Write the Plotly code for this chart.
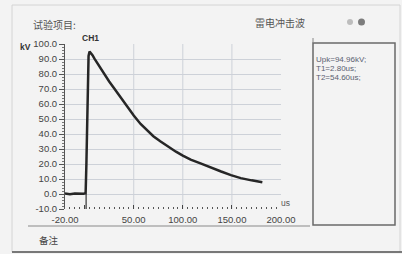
import plotly.graph_objects as go

# ---- data ----
time_us = [-20, -15, -10, -5, -1, 0, 1, 1.8, 2.5, 3.2, 4, 5, 6, 8, 10, 13, 16, 20, 25, 30, 36, 43,
           50, 57, 63, 70, 77, 85, 93, 100, 108, 118, 128, 139, 149, 159, 170, 181]
voltage_kv = [0.3, -0.2, 0.4, 0.1, 0.2, 0.4, 0.5, 20, 55, 82, 92, 94.96, 94.3, 92.5, 90.2, 87.0,
              84.0, 79.8, 75.0, 70.5, 64.8, 58.5, 52.3, 46.7, 42.6, 38.5, 35.2, 31.4, 28.2, 25.6,
              22.9, 20.4, 17.6, 15.0, 12.6, 10.6, 9.1, 7.8]

x_tick_vals = [-20, 0, 50, 100, 150, 200]
x_tick_text = ["-20.00", "", "50.00", "100.00", "150.00", "200.00"]
y_tick_vals = [-10, 0, 10, 20, 30, 40, 50, 60, 70, 80, 90, 100]
y_tick_text = ["-10.0", "0.0", "10.0", "20.0", "30.0", "40.0", "50.0", "60.0", "70.0",
               "80.0", "90.0", "100.0"]
x_grid = [50, 100, 150]
cursor_x = [1.5]

title_left = "试验项目:"
title_mid = "雷电冲击波"
channel = "CH1"
y_unit = "kV"
x_unit = "us"
remark = "备注"
results = ["Upk=94.96kV;", "T1=2.80us;", "T2=54.60us;"]

W, H = 402, 254
L, R, T, B = 65, 121, 44, 45
PW, PH = W - L - R, H - T - B


def px(x):
    return (x - L) / PW


def py(y):
    return (H - B - y) / PH


BG = "#f3f3f3"
TXT = "#3a3a3a"
FONT = "Liberation Sans"
CJK = "Noto Sans CJK SC"

fig = go.Figure()
fig.add_trace(go.Scatter(x=time_us, y=voltage_kv, mode="lines",
                         line=dict(color="#262626", width=2.5), hoverinfo="skip",
                         showlegend=False))

shapes = []
for gx in x_grid:
    shapes.append(dict(type="line", xref="x", yref="y", x0=gx, x1=gx, y0=-10, y1=100,
                       line=dict(color="#cdd1d8", width=1), layer="below"))
for cx in cursor_x:
    shapes.append(dict(type="line", xref="x", yref="y", x0=cx, x1=cx, y0=-10, y1=0,
                       line=dict(color="#333333", width=1.2)))
# layout frame lines (pixel positions)
shapes += [
    dict(type="rect", xref="paper", yref="paper", x0=px(12), x1=px(400), y0=py(252), y1=py(5),
         line=dict(color="#d4d4d4", width=1)),
    dict(type="line", xref="paper", yref="paper", x0=px(12), x1=px(402), y0=py(252), y1=py(252),
         line=dict(color="#555555", width=1.5)),
    dict(type="line", xref="paper", yref="paper", x0=px(28), x1=px(310), y0=py(226), y1=py(226),
         line=dict(color="#8a8a8a", width=1.2)),
    dict(type="rect", xref="paper", yref="paper", x0=px(313), x1=px(395), y0=py(225), y1=py(43),
         line=dict(color="#6a6a6a", width=1.5)),
    dict(type="line", xref="paper", yref="paper", x0=px(313), x1=px(313), y0=py(43), y1=py(38),
         line=dict(color="#888888", width=1)),
    dict(type="circle", xref="paper", yref="paper", x0=px(347), x1=px(353), y0=py(25), y1=py(19),
         line=dict(width=0), fillcolor="#bdbdbd"),
    dict(type="circle", xref="paper", yref="paper", x0=px(358), x1=px(365), y0=py(25.5), y1=py(18.5),
         line=dict(width=0), fillcolor="#7c7c7c"),
]

ann = []


def add_text(text, x, y, size, family=FONT, anchor="left", color=TXT, bold=False):
    t = f"<b>{text}</b>" if bold else text
    ann.append(dict(text=t, xref="paper", yref="paper", x=px(x), y=py(y), xanchor=anchor,
                    yanchor="middle", showarrow=False, font=dict(size=size, family=family,
                                                                 color=color)))


add_text(title_left, 31, 25, 10, CJK, color="#555555")
add_text(title_mid, 253, 22, 10, CJK, color="#555555")
add_text(channel, 80, 38, 8.5, color="#333333", bold=True)
add_text(y_unit, 18, 47, 8.5, color="#333333", bold=True)
add_text(x_unit, 279, 203, 8.5, color="#555555")
add_text(remark, 37, 240, 9.5, CJK, color="#444444")
for i, line in enumerate(results):
    add_text(line, 314, 59 + i * 9, 8, color="#5a6070")

fig.update_layout(
    width=W, height=H, margin=dict(l=L, r=R, t=T, b=B),
    paper_bgcolor=BG, plot_bgcolor=BG, shapes=shapes, annotations=ann,
    xaxis=dict(range=[-20, 200], tickvals=x_tick_vals, ticktext=x_tick_text, showgrid=False,
               zeroline=False, showline=False, ticks="inside", ticklen=4, tickwidth=1,
               tickcolor="#444444", ticklabelstandoff=3,
               minor=dict(dtick=5, tick0=0, ticks="inside", ticklen=2, tickcolor="#555555",
                          showgrid=False),
               tickfont=dict(size=9.5, family=FONT, color="#444444")),
    yaxis=dict(range=[-10, 100], tickvals=y_tick_vals, ticktext=y_tick_text, showgrid=True,
               gridcolor="#cdd1d8", gridwidth=1, zeroline=False, showline=True,
               linecolor="#555555", linewidth=1, ticks="outside", ticklen=5, tickwidth=1,
               tickcolor="#555555",
               minor=dict(dtick=2, tick0=0, ticks="outside", ticklen=2.5, tickcolor="#777777",
                          showgrid=False),
               tickfont=dict(size=9.5, family=FONT, color="#444444")),
)

fig.write_html("out.html", post_script="document.body.style.margin='0';",
               config={"displayModeBar": False})
